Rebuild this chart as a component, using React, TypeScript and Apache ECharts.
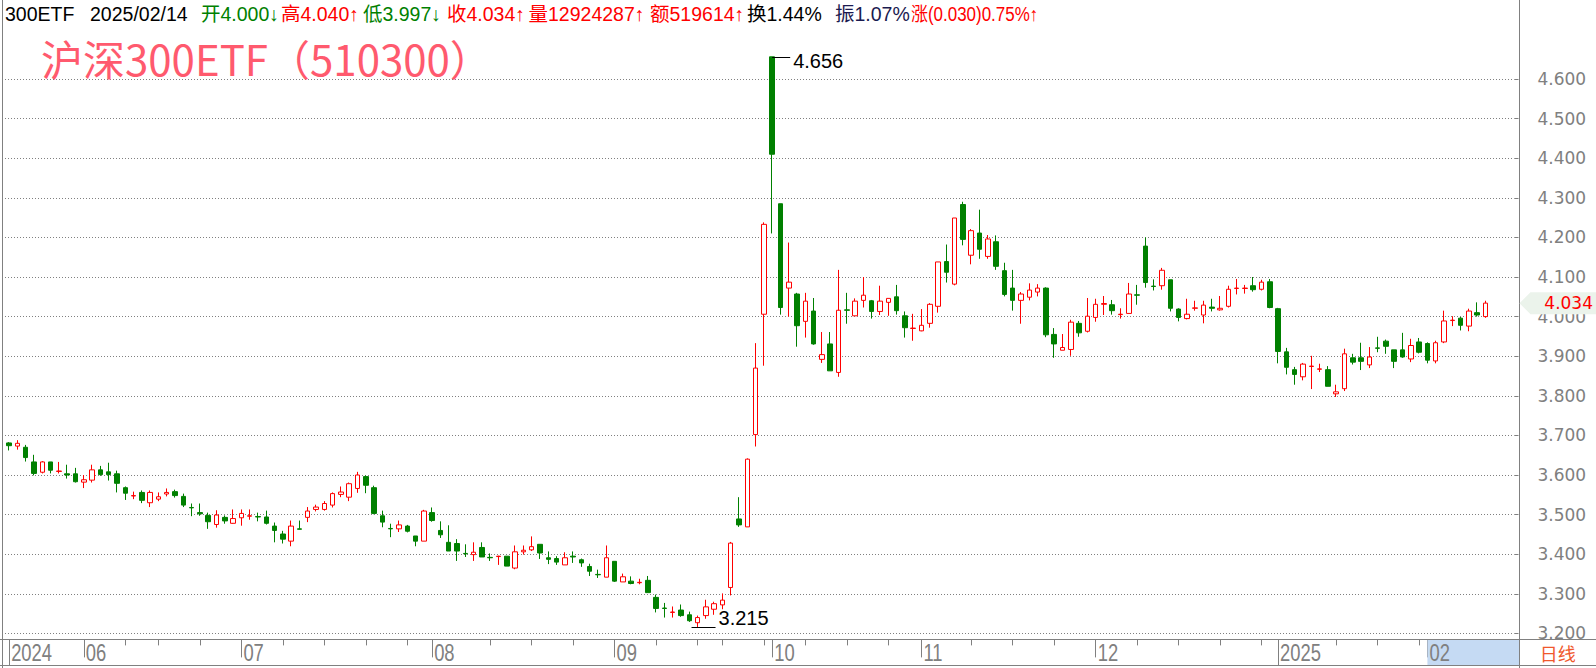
import React, { useEffect, useRef } from "react";
import * as echarts from "echarts";

// ---------- DATA ----------
const monthDays: [string, number[]][] = [
  ["2024/05", [21, 22, 23, 24, 27, 28, 29, 30, 31]],
  ["2024/06", [3, 4, 5, 6, 7, 11, 12, 13, 14, 17, 18, 19, 20, 21, 24, 25, 26, 27, 28]],
  ["2024/07", [1, 2, 3, 4, 5, 8, 9, 10, 11, 12, 15, 16, 17, 18, 19, 22, 23, 24, 25, 26, 29, 30, 31]],
  ["2024/08", [1, 2, 5, 6, 7, 8, 9, 12, 13, 14, 15, 16, 19, 20, 21, 22, 23, 26, 27, 28, 29, 30]],
  ["2024/09", [2, 3, 4, 5, 6, 9, 10, 11, 12, 13, 18, 19, 20, 23, 24, 25, 26, 27, 30]],
  ["2024/10", [8, 9, 10, 11, 14, 15, 16, 17, 18, 21, 22, 23, 24, 25, 28, 29, 30, 31]],
  ["2024/11", [1, 4, 5, 6, 7, 8, 11, 12, 13, 14, 15, 18, 19, 20, 21, 22, 25, 26, 27, 28, 29]],
  ["2024/12", [2, 3, 4, 5, 6, 9, 10, 11, 12, 13, 16, 17, 18, 19, 20, 23, 24, 25, 26, 27, 30, 31]],
  ["2025/01", [2, 3, 6, 7, 8, 9, 10, 13, 14, 15, 16, 17, 20, 21, 22, 23, 24, 27]],
  ["2025/02", [5, 6, 7, 10, 11, 12, 13, 14]],
];

const opens = [
  3.681, 3.673, 3.670, 3.633, 3.607, 3.633, 3.609, 3.603, 3.603, 3.582,
  3.587, 3.613, 3.608, 3.603, 3.568, 3.547, 3.556, 3.530, 3.539, 3.552,
  3.558, 3.546, 3.518, 3.505, 3.498, 3.475, 3.493, 3.478, 3.492, 3.496,
  3.495, 3.494, 3.471, 3.451, 3.433, 3.464, 3.493, 3.513, 3.513, 3.524,
  3.551, 3.544, 3.566, 3.596, 3.568, 3.497, 3.465, 3.464, 3.471, 3.446,
  3.433, 3.505, 3.460, 3.430, 3.427, 3.402, 3.399, 3.417, 3.392, 3.394,
  3.395, 3.365, 3.406, 3.411, 3.425, 3.391, 3.389, 3.373, 3.395, 3.386,
  3.369, 3.349, 3.342, 3.382, 3.330, 3.332, 3.328, 3.334, 3.291, 3.264,
  3.253, 3.259, 3.247, 3.227, 3.245, 3.261, 3.272, 3.316, 3.489, 3.469,
  3.702, 4.006, 4.656, 4.285, 4.072, 4.057, 3.988, 4.014, 3.892, 3.931,
  3.859, 4.017, 4.002, 4.041, 4.040, 4.013, 4.036, 4.050, 4.002, 3.970,
  3.964, 3.983, 4.026, 4.139, 4.082, 4.283, 4.155, 4.211, 4.152, 4.189,
  4.116, 4.072, 4.041, 4.049, 4.062, 4.072, 3.955, 3.915, 3.917, 3.983,
  3.963, 3.998, 4.031, 4.030, 4.005, 4.008, 4.055, 4.178, 4.077, 4.078,
  4.093, 4.019, 3.995, 4.021, 4.004, 4.024, 4.017, 4.026, 4.071, 4.071,
  4.078, 4.069, 4.088, 4.020, 3.911, 3.866, 3.848, 3.874, 3.867, 3.866,
  3.805, 3.818, 3.896, 3.896, 3.878, 3.921, 3.938, 3.916, 3.916, 3.893,
  3.936, 3.932, 3.888, 3.936, 3.990, 3.996, 3.976, 4.010, 4.000,
];
const closes = [
  3.674, 3.680, 3.644, 3.604, 3.633, 3.612, 3.610, 3.600, 3.583, 3.588,
  3.613, 3.601, 3.601, 3.579, 3.554, 3.548, 3.536, 3.556, 3.545, 3.556,
  3.548, 3.524, 3.517, 3.502, 3.482, 3.499, 3.484, 3.490, 3.503, 3.497,
  3.494, 3.478, 3.460, 3.438, 3.471, 3.463, 3.509, 3.519, 3.528, 3.553,
  3.557, 3.578, 3.600, 3.574, 3.503, 3.481, 3.464, 3.474, 3.458, 3.433,
  3.509, 3.485, 3.449, 3.408, 3.408, 3.401, 3.405, 3.393, 3.391, 3.395,
  3.370, 3.406, 3.410, 3.419, 3.403, 3.387, 3.380, 3.391, 3.393, 3.378,
  3.357, 3.348, 3.391, 3.332, 3.343, 3.326, 3.329, 3.303, 3.263, 3.263,
  3.254, 3.245, 3.232, 3.240, 3.267, 3.275, 3.284, 3.428, 3.474, 3.640,
  3.870, 4.233, 4.410, 4.023, 4.087, 3.977, 4.039, 3.931, 3.904, 3.863,
  4.016, 4.016, 4.039, 4.054, 4.013, 4.039, 4.046, 4.015, 3.972, 3.971,
  3.978, 4.031, 4.138, 4.112, 4.249, 4.195, 4.217, 4.170, 4.196, 4.127,
  4.056, 4.041, 4.057, 4.067, 4.072, 3.954, 3.931, 3.922, 3.986, 3.959,
  4.001, 4.031, 4.033, 4.015, 4.006, 4.057, 4.054, 4.086, 4.076, 4.117,
  4.021, 3.998, 4.006, 4.022, 4.029, 4.021, 4.021, 4.069, 4.072, 4.072,
  4.068, 4.087, 4.023, 3.912, 3.872, 3.854, 3.880, 3.875, 3.868, 3.824,
  3.810, 3.906, 3.885, 3.887, 3.898, 3.920, 3.925, 3.887, 3.898, 3.927,
  3.910, 3.890, 3.934, 3.989, 3.991, 3.978, 4.014, 4.004, 4.034,
];
const lows = [
  3.662, 3.664, 3.634, 3.599, 3.604, 3.604, 3.604, 3.591, 3.581, 3.567,
  3.581, 3.598, 3.586, 3.556, 3.537, 3.539, 3.529, 3.519, 3.534, 3.546,
  3.543, 3.519, 3.496, 3.497, 3.464, 3.467, 3.477, 3.477, 3.472, 3.487,
  3.483, 3.475, 3.430, 3.427, 3.420, 3.463, 3.481, 3.508, 3.510, 3.518,
  3.544, 3.534, 3.555, 3.554, 3.501, 3.468, 3.443, 3.456, 3.455, 3.420,
  3.433, 3.482, 3.441, 3.408, 3.383, 3.393, 3.383, 3.393, 3.383, 3.373,
  3.370, 3.362, 3.399, 3.408, 3.388, 3.375, 3.373, 3.373, 3.378, 3.368,
  3.345, 3.340, 3.342, 3.330, 3.330, 3.324, 3.324, 3.303, 3.253, 3.240,
  3.240, 3.242, 3.229, 3.215, 3.237, 3.247, 3.261, 3.296, 3.469, 3.469,
  3.672, 3.876, 4.210, 4.005, 4.000, 3.924, 3.947, 3.929, 3.883, 3.863,
  3.848, 3.982, 4.002, 4.023, 3.995, 4.004, 4.002, 4.005, 3.947, 3.939,
  3.963, 3.972, 4.010, 4.086, 4.079, 4.180, 4.132, 4.146, 4.146, 4.118,
  4.051, 4.015, 3.982, 4.041, 4.051, 3.948, 3.896, 3.915, 3.901, 3.949,
  3.960, 3.987, 4.004, 4.005, 3.995, 4.008, 4.030, 4.073, 4.066, 4.068,
  4.013, 3.988, 3.993, 4.015, 3.983, 4.013, 4.015, 4.023, 4.056, 4.058,
  4.063, 4.066, 4.021, 3.882, 3.854, 3.828, 3.839, 3.817, 3.860, 3.824,
  3.797, 3.812, 3.879, 3.865, 3.870, 3.910, 3.906, 3.870, 3.896, 3.885,
  3.907, 3.882, 3.882, 3.933, 3.976, 3.965, 3.963, 4.000, 3.997,
];
const highs = [
  3.683, 3.688, 3.676, 3.651, 3.635, 3.633, 3.633, 3.626, 3.618, 3.600,
  3.626, 3.623, 3.631, 3.611, 3.571, 3.558, 3.561, 3.561, 3.556, 3.566,
  3.563, 3.553, 3.528, 3.528, 3.505, 3.511, 3.498, 3.513, 3.513, 3.513,
  3.505, 3.510, 3.480, 3.459, 3.485, 3.485, 3.519, 3.525, 3.534, 3.556,
  3.571, 3.581, 3.608, 3.599, 3.573, 3.510, 3.477, 3.485, 3.474, 3.446,
  3.512, 3.518, 3.483, 3.473, 3.438, 3.425, 3.430, 3.430, 3.402, 3.396,
  3.395, 3.422, 3.422, 3.445, 3.425, 3.407, 3.395, 3.405, 3.407, 3.389,
  3.376, 3.361, 3.422, 3.382, 3.351, 3.344, 3.338, 3.345, 3.298, 3.277,
  3.268, 3.273, 3.255, 3.245, 3.285, 3.280, 3.301, 3.431, 3.544, 3.642,
  3.933, 4.238, 4.656, 4.285, 4.187, 4.060, 4.060, 4.047, 3.961, 3.961,
  4.118, 4.060, 4.046, 4.100, 4.042, 4.078, 4.046, 4.080, 4.013, 4.007,
  4.019, 4.034, 4.138, 4.182, 4.249, 4.290, 4.221, 4.270, 4.206, 4.205,
  4.136, 4.118, 4.062, 4.084, 4.082, 4.074, 3.971, 3.956, 3.992, 3.989,
  4.047, 4.045, 4.052, 4.042, 4.021, 4.085, 4.080, 4.200, 4.094, 4.123,
  4.093, 4.021, 4.045, 4.040, 4.040, 4.045, 4.052, 4.078, 4.095, 4.080,
  4.100, 4.093, 4.095, 4.022, 3.921, 3.873, 3.883, 3.901, 3.881, 3.875,
  3.828, 3.919, 3.906, 3.934, 3.923, 3.949, 3.942, 3.916, 3.959, 3.944,
  3.946, 3.935, 3.939, 4.015, 4.001, 3.999, 4.020, 4.036, 4.040,
];

const yTicks = [3.2, 3.3, 3.4, 3.5, 3.6, 3.7, 3.8, 3.9, 4.0, 4.1, 4.2, 4.3, 4.4, 4.5, 4.6];
const securityShort = "300ETF";
const securityTitle = "沪深300ETF（510300）";
const volumeText = "12924287";
const amountText = "519614";
const turnoverText = "1.44%";
const periodText = "日线";

// ---------- derived ----------
const dates: string[] = monthDays.flatMap(([m, ds]) =>
  ds.map((d) => `${m}/${String(d).padStart(2, "0")}`)
);
const EMPTY_SLOTS = 3;
const categories = [...dates, ...Array.from({ length: EMPTY_SLOTS }, (_, k) => `blank${k}`)];

const toDate = (s: string) => {
  const [y, m, d] = s.split("/").map(Number);
  return new Date(y, m - 1, d);
};
const monthStarts: number[] = [];
const yearStarts: number[] = [];
const weekStarts: number[] = [];
dates.forEach((s, i) => {
  if (i === 0) {
    monthStarts.push(0);
    yearStarts.push(0);
    return;
  }
  const a = toDate(dates[i - 1]);
  const b = toDate(s);
  if (a.getMonth() !== b.getMonth()) monthStarts.push(i);
  if (a.getFullYear() !== b.getFullYear()) yearStarts.push(i);
  const gap = (b.getTime() - a.getTime()) / 86400000;
  if (b.getDay() <= a.getDay() || gap >= 7) weekStarts.push(i);
});
const labelOf = (i: number) => {
  const d = toDate(dates[i]);
  if (yearStarts.includes(i)) return String(d.getFullYear());
  return String(d.getMonth() + 1).padStart(2, "0");
};
const monthSet = new Set(monthStarts.filter((i) => !yearStarts.includes(i)));
const yearSet = new Set(yearStarts);
const weekSet = new Set(
  weekStarts.filter((i) => {
    if (monthStarts.includes(i)) return false;
    for (const m of monthStarts) {
      const span = yearStarts.includes(m) ? 5 : 3;
      if (i > m && i - m <= span) return false;
    }
    return true;
  })
);

const RED = "#ff0000";
const GREEN = "#008000";
const GRAY = "#808080";
const LATIN = "'Liberation Sans', Arial, 'Noto Sans CJK SC', sans-serif";
const CJK = "'Noto Sans CJK SC', sans-serif";
const AXISFONT = "'DejaVu Sans', Verdana, sans-serif";

export default function App() {
  const ref = useRef<HTMLDivElement>(null);
  useEffect(() => {
    document.body.style.margin = "0";
    document.body.style.overflow = "hidden";
    const chart = echarts.init(ref.current!, null, { renderer: "svg" });
    const n = dates.length;
    const candleData = dates.map((_, i) => [opens[i], closes[i], lows[i], highs[i]]);

    const baseX = {
      type: "category",
      data: categories,
      boundaryGap: true,
      position: "bottom",
      offset: 6,
      axisLine: { show: false },
      axisLabel: { show: false },
      splitLine: { show: false },
    };

    chart.setOption({
      animation: false,
      backgroundColor: "#ffffff",
      grid: { left: 5, right: 81.5, top: 39.4, bottom: 34.6, containLabel: false },
      xAxis: [
        {
          ...baseX,
          axisTick: {
            show: true,
            alignWithLabel: true,
            interval: (i: number) => weekSet.has(i),
            length: 6,
            lineStyle: { color: GRAY, width: 1 },
          },
        },
        {
          ...baseX,
          axisTick: {
            show: true,
            alignWithLabel: true,
            interval: (i: number) => monthSet.has(i),
            length: 18,
            lineStyle: { color: GRAY, width: 1 },
          },
        },
        {
          ...baseX,
          axisTick: {
            show: true,
            alignWithLabel: true,
            interval: (i: number) => yearSet.has(i),
            length: 26,
            lineStyle: { color: GRAY, width: 1 },
          },
        },
      ],
      yAxis: {
        type: "value",
        position: "right",
        min: yTicks[0],
        max: 4.7,
        interval: 0.1,
        axisLine: { show: false },
        axisTick: { show: true, length: 4, lineStyle: { color: GRAY } },
        axisLabel: {
          color: GRAY,
          fontSize: 17,
          fontFamily: AXISFONT,
          margin: 23,
          showMaxLabel: false,
          formatter: (v: number) =>
            yTicks.some((t) => Math.abs(t - v) < 1e-6) ? v.toFixed(3) : "",
        },
        splitLine: {
          show: true,
          showMaxLine: false,
          lineStyle: { color: GRAY, type: [1, 2], width: 1 },
        },
      },
      series: [
        {
          type: "candlestick",
          xAxisIndex: 0,
          yAxisIndex: 0,
          data: candleData,
          barWidth: 5,
          clip: false,
          itemStyle: {
            color: "#ffffff",
            color0: GREEN,
            borderColor: RED,
            borderColor0: GREEN,
            borderWidth: 1,
          },
        },
      ],
    });

    const xp = (i: number) => chart.convertToPixel({ xAxisIndex: 0 }, i) as number;
    const yp = (v: number) => chart.convertToPixel({ yAxisIndex: 0 }, v) as number;

    const axisTop = yp(yTicks[0]) + 6;
    const stripBottom = 665.5;
    const axisRight = 1519.5;

    const g: any[] = [];
    g.push({ type: "line", shape: { x1: 2.5, y1: 0, x2: 2.5, y2: 668 }, style: { stroke: GRAY, lineWidth: 1 }, z: 5 });
    g.push({ type: "line", shape: { x1: axisRight, y1: 0, x2: axisRight, y2: 668 }, style: { stroke: GRAY, lineWidth: 1 }, z: 5 });
    const lastMonth = monthStarts[monthStarts.length - 1];
    g.push({
      type: "rect",
      shape: { x: xp(lastMonth), y: axisTop, width: axisRight - xp(lastMonth), height: stripBottom - axisTop },
      style: { fill: "#c5daf3" },
      z: 1,
    });
    g.push({ type: "line", shape: { x1: 0, y1: Math.round(axisTop) + 0.5, x2: 1596, y2: Math.round(axisTop) + 0.5 }, style: { stroke: GRAY, lineWidth: 1 }, z: 5 });
    g.push({ type: "line", shape: { x1: 0, y1: stripBottom, x2: 1596, y2: stripBottom }, style: { stroke: GRAY, lineWidth: 1 }, z: 5 });
    monthStarts.forEach((i) => {
      g.push({
        type: "text",
        x: xp(i) + 2,
        y: axisTop + 13,
        scaleX: 0.8,
        style: {
          text: labelOf(i),
          fill: GRAY,
          fontSize: 23,
          fontFamily: LATIN,
          align: "left",
          verticalAlign: "middle",
          textAlign: "left",
          textVerticalAlign: "middle",
        },
        z: 6,
      });
    });
    g.push({
      type: "text",
      x: (axisRight + 1596) / 2,
      y: axisTop + 14,
      style: {
        text: periodText,
        fill: "#f0582c",
        fontSize: 18,
        fontFamily: CJK,
        align: "center",
        verticalAlign: "middle",
        textAlign: "center",
        textVerticalAlign: "middle",
      },
      z: 6,
    });

    // header
    const last = n - 1;
    const prevClose = closes[last - 1];
    const up = (v: number) => v >= prevClose;
    const arrow = (v: number) => (up(v) ? "↑" : "↓");
    const col = (v: number) => (up(v) ? RED : GREEN);
    const chg = closes[last] - prevClose;
    const header: [number, string, string, number][] = [
      [5, securityShort, "#000000", 1],
      [90, dates[last], "#000000", 1],
      [201, `开${opens[last].toFixed(3)}${arrow(opens[last])}`, col(opens[last]), 1],
      [281, `高${highs[last].toFixed(3)}${arrow(highs[last])}`, col(highs[last]), 1],
      [363, `低${lows[last].toFixed(3)}${arrow(lows[last])}`, col(lows[last]), 1],
      [447, `收${closes[last].toFixed(3)}${arrow(closes[last])}`, col(closes[last]), 1],
      [528.5, `量${volumeText}↑`, RED, 1],
      [650, `额${amountText}↑`, RED, 1],
      [747, `换${turnoverText}`, "#000000", 1],
      [835, `振${(((highs[last] - lows[last]) / prevClose) * 100).toFixed(2)}%`, "#1a1a50", 1],
      [911, `涨(${chg.toFixed(3)})${((chg / prevClose) * 100).toFixed(2)}%${chg >= 0 ? "↑" : "↓"}`, RED, 0.87],
    ];
    header.forEach(([x, t, c, sx]) => {
      g.push({
        type: "text",
        x,
        y: 14,
        scaleX: sx,
        style: {
          text: t,
          fill: c,
          fontSize: 19.5,
          fontFamily: LATIN,
          align: "left",
          verticalAlign: "middle",
          textAlign: "left",
          textVerticalAlign: "middle",
        },
        z: 6,
      });
    });
    g.push({
      type: "text",
      x: 41,
      y: 57,
      style: {
        text: securityTitle,
        fill: "#ff5a6e",
        fontSize: 42,
        fontFamily: CJK,
        align: "left",
        verticalAlign: "middle",
        textAlign: "left",
        textVerticalAlign: "middle",
      },
      z: 6,
    });

    // max / min markers
    let hi = 0;
    let lo = 0;
    for (let i = 0; i < n; i++) {
      if (highs[i] > highs[hi]) hi = i;
      if (lows[i] < lows[lo]) lo = i;
    }
    const hx = xp(hi);
    const hy = Math.round(yp(highs[hi])) + 0.5;
    g.push({ type: "line", shape: { x1: hx, y1: hy, x2: hx + 18, y2: hy }, style: { stroke: "#000", lineWidth: 1 }, z: 6 });
    g.push({
      type: "text",
      x: hx + 21,
      y: hy + 3,
      style: { text: highs[hi].toFixed(3), fill: "#000", fontSize: 20, fontFamily: LATIN, align: "left", verticalAlign: "middle", textAlign: "left", textVerticalAlign: "middle" },
      z: 6,
    });
    const lx = xp(lo);
    const ly = Math.round(yp(lows[lo])) + 0.5;
    g.push({ type: "line", shape: { x1: lx - 6, y1: ly, x2: lx + 18, y2: ly }, style: { stroke: "#000", lineWidth: 1 }, z: 6 });
    g.push({
      type: "text",
      x: lx + 21,
      y: ly - 10,
      style: { text: lows[lo].toFixed(3), fill: "#000", fontSize: 20, fontFamily: LATIN, align: "left", verticalAlign: "middle", textAlign: "left", textVerticalAlign: "middle" },
      z: 6,
    });

    // last price box
    const cy = yp(closes[last]);
    g.push({
      type: "polygon",
      shape: {
        points: [
          [axisRight, cy],
          [axisRight + 11, cy - 11],
          [1596, cy - 11],
          [1596, cy + 11],
          [axisRight + 11, cy + 11],
        ],
      },
      style: { fill: "#ebf3eb" },
      z: 7,
    });
    g.push({
      type: "text",
      x: 1593,
      y: cy,
      style: { text: closes[last].toFixed(3), fill: RED, fontSize: 17, fontFamily: AXISFONT, align: "right", verticalAlign: "middle", textAlign: "right", textVerticalAlign: "middle" },
      z: 8,
    });

    chart.setOption({ graphic: { elements: g } });
    return () => chart.dispose();
  }, []);
  return <div ref={ref} style={{ width: 1596, height: 668, position: "absolute", left: 0, top: 0 }} />;
}
